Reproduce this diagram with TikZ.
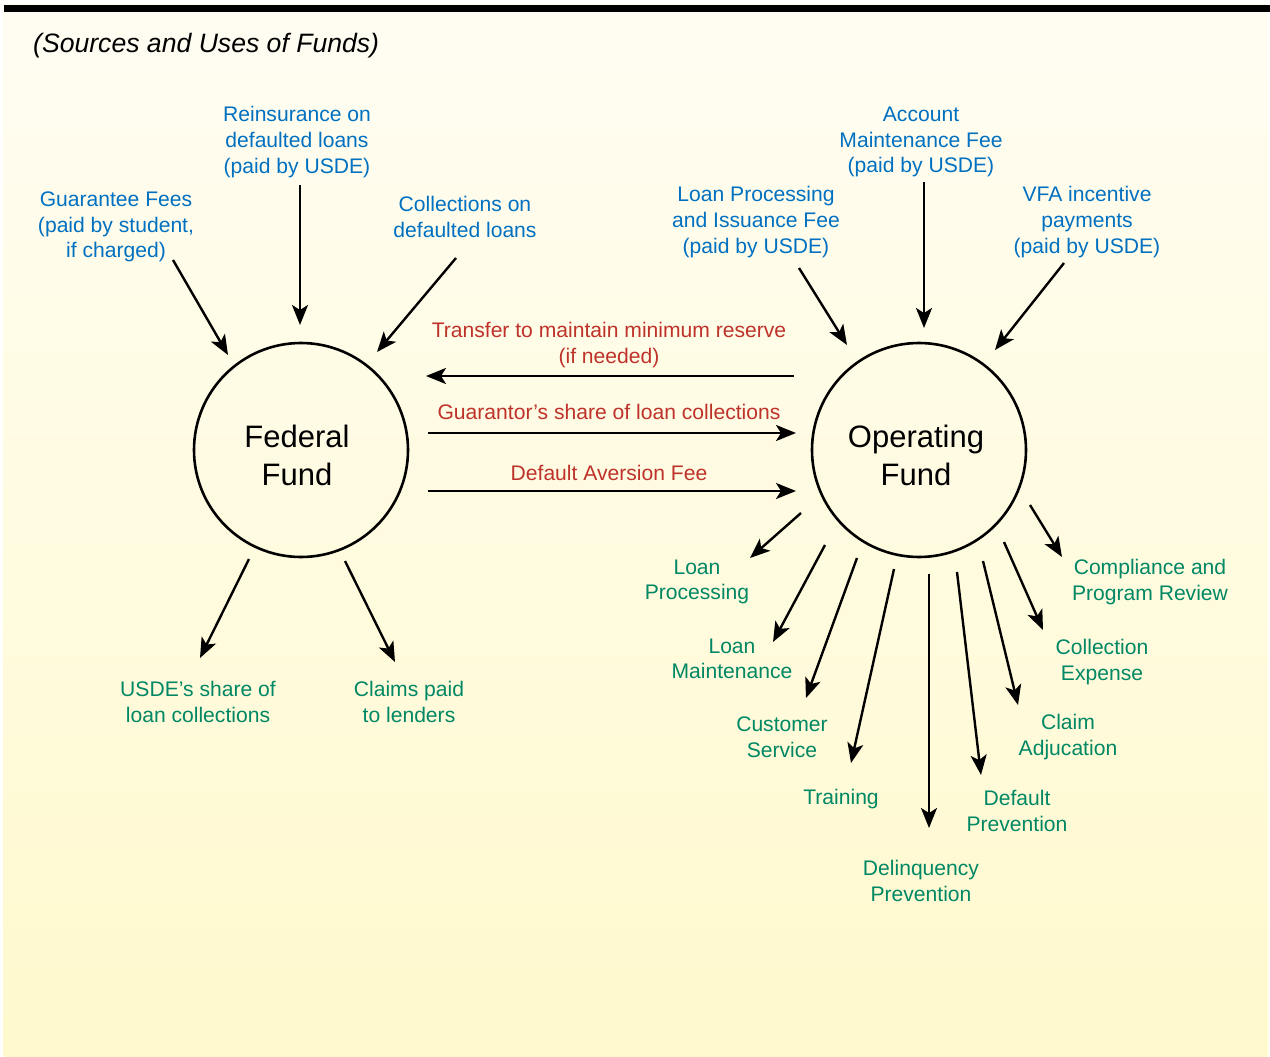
\documentclass[tikz,border=0pt]{standalone}
\usepackage{fontspec}
\setmainfont{Liberation Sans}
\usetikzlibrary{arrows.meta}
\definecolor{tblue}{RGB}{0,112,192}
\definecolor{tred}{RGB}{190,50,42}
\definecolor{tgreen}{RGB}{0,135,100}
\definecolor{bgtop}{RGB}{255,253,243}
\definecolor{bgbot}{RGB}{255,249,205}
\begin{document}
\begin{tikzpicture}[x=1pt,y=-1pt,
  arr/.style={line width=2.4pt, -{Stealth[length=20pt,width=16pt,inset=5pt]}},
  lbl/.style={align=center, inner sep=0pt, font=\fontsize{21.1}{25.6}\selectfont},
  src/.style={lbl, text=tblue},
  xfer/.style={lbl, text=tred},
  outlbl/.style={lbl, text=tgreen},
  fund/.style={circle, draw, line width=2.6pt, minimum size=214pt, inner sep=0pt},
  fundtxt/.style={align=center, inner sep=0pt, font=\fontsize{31}{38}\selectfont}]
\useasboundingbox (0,0) rectangle (1270,1057);
\fill[white] (0,0) rectangle (1270,1057);
\shade[top color=bgtop, bottom color=bgbot] (3,5) rectangle (1268,1057);
\fill[black] (4,5) rectangle (1270,12);

% title
\node[anchor=west, inner sep=0pt, font=\fontsize{26.6}{32}\selectfont\itshape] (title) at (33,46) {(Sources and Uses of Funds)};

% funds
\node[fund] (fed) at (301,450) {};
\node[fundtxt] (fedtxt) at (297,455) {Federal\\Fund};
\node[fund] (op) at (919,450) {};
\node[fundtxt] (optxt) at (916,455) {Operating\\Fund};

% sources
\node[src] (guar) at (116,227) {Guarantee Fees\\(paid by student,\\if charged)};
\node[src] (reins) at (297,142) {Reinsurance on\\defaulted loans\\(paid by USDE)};
\node[src] (coll) at (465,217) {Collections on\\defaulted loans};
\node[src] (lpif) at (756,222) {Loan Processing\\and Issuance Fee\\(paid by USDE)};
\node[src] (amf) at (921,142) {Account\\Maintenance Fee\\(paid by USDE)};
\node[src] (vfa) at (1087,222) {VFA incentive\\payments\\(paid by USDE)};

% transfers
\node[xfer] (tr1) at (609,345) {Transfer to maintain minimum reserve\\(if needed)};
\node[xfer] (tr2) at (609,412) {Guarantor’s share of loan collections};
\node[xfer] (tr3) at (609,473) {Default Aversion Fee};

% uses
\node[outlbl] (usde) at (198,702) {USDE’s share of\\loan collections};
\node[outlbl] (claims) at (409,702) {Claims paid\\to lenders};
\node[outlbl] (lp) at (697,582) {Loan\\Processing};
\node[outlbl] (lm) at (732,659) {Loan\\Maintenance};
\node[outlbl] (cs) at (782,737) {Customer\\Service};
\node[outlbl] (trn) at (841,799) {Training};
\node[outlbl] (dlq) at (921,881) {Delinquency\\Prevention};
\node[outlbl] (dp) at (1017,811) {Default\\Prevention};
\node[outlbl] (ca) at (1068,737) {Claim\\Adjucation};
\node[outlbl] (ce) at (1102,662) {Collection\\Expense};
\node[outlbl] (cpr) at (1150,582) {Compliance and\\Program Review};

% arrow end points
\coordinate (a1s) at (173,260); \coordinate (a1e) at (228,355);
\coordinate (a2s) at (300,185); \coordinate (a2e) at (300,325);
\coordinate (a3s) at (456,258); \coordinate (a3e) at (377,352);
\coordinate (a4s) at (799,268); \coordinate (a4e) at (847,345);
\coordinate (a5s) at (924,182); \coordinate (a5e) at (924,328);
\coordinate (a6s) at (1064,263); \coordinate (a6e) at (995,350);
\coordinate (t1s) at (794,376); \coordinate (t1e) at (426,376);
\coordinate (t2s) at (428,433); \coordinate (t2e) at (796,433);
\coordinate (t3s) at (428,491); \coordinate (t3e) at (796,491);
\coordinate (f1s) at (249,559); \coordinate (f1e) at (200,658);
\coordinate (f2s) at (345,561); \coordinate (f2e) at (395,662);
\coordinate (o1s) at (801,513); \coordinate (o1e) at (750,558);
\coordinate (o2s) at (825,545); \coordinate (o2e) at (773,642);
\coordinate (o3s) at (857,558); \coordinate (o3e) at (806,698);
\coordinate (o4s) at (894,569); \coordinate (o4e) at (851,763);
\coordinate (o5s) at (929,574); \coordinate (o5e) at (929,828);
\coordinate (o6s) at (957,572); \coordinate (o6e) at (981,775);
\coordinate (o7s) at (983,561); \coordinate (o7e) at (1018,705);
\coordinate (o8s) at (1004,542); \coordinate (o8e) at (1043,630);
\coordinate (o9s) at (1030,505); \coordinate (o9e) at (1062,557);

\foreach \n in {a1,a2,a3,a4,a5,a6,t1,t2,t3,f1,f2,o1,o2,o3,o4,o5,o6,o7,o8,o9}
  \draw[arr] (\n s) -- (\n e);
\end{tikzpicture}
\end{document}
